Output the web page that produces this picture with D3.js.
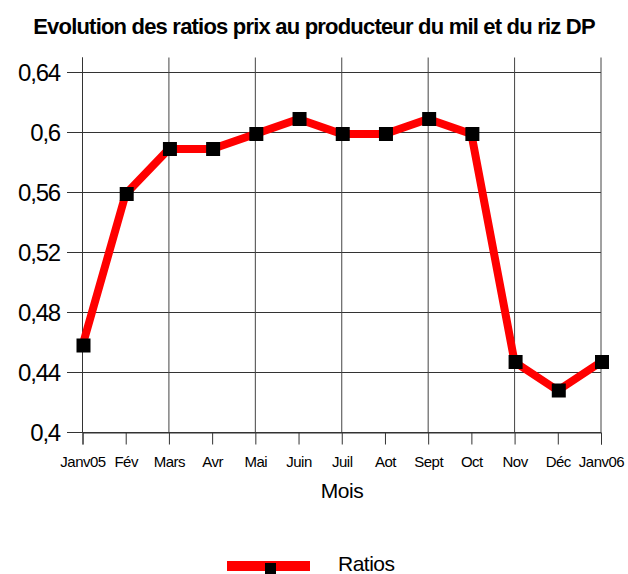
<!DOCTYPE html>
<html>
<head>
<meta charset="utf-8">
<script src="https://cdn.jsdelivr.net/npm/d3@7"></script>
<style>
body { margin: 0; background: #fff; }
text { font-family: "Liberation Sans", Arial, sans-serif; fill: #000; }
</style>
</head>
<body>
<div id="chart"></div>
<script>
var months = ["Janv05", "Fév", "Mars", "Avr", "Mai", "Juin", "Juil", "Aot", "Sept", "Oct", "Nov", "Déc", "Janv06"];
var ratios = [0.458, 0.559, 0.589, 0.589, 0.599, 0.609, 0.599, 0.599, 0.609, 0.599, 0.447, 0.428, 0.447];
var yTicks = [0.4, 0.44, 0.48, 0.52, 0.56, 0.6, 0.64];
var majorMonths = ["Janv05", "Mars", "Mai", "Juil", "Sept", "Nov", "Janv06"];

var svgWidth = 628;
var svgHeight = 574;

var svg = d3.select("#chart")
.append("svg")
.attr("width", svgWidth)
.attr("height", svgHeight);

var xScale = d3.scalePoint()
.domain(months)
.range([82.5, 601]);

var yScale = d3.scaleLinear()
.domain([0.4, 0.65])
.range([432.5, 57.5]);

var fmt = function(d) { return String(+d.toFixed(2)).replace(".", ","); };

// title
svg.append("text")
.attr("x", 314)
.attr("y", 34)
.attr("text-anchor", "middle")
.attr("font-size", "22px")
.attr("font-weight", "bold")
.attr("letter-spacing", "-0.8px")
.text("Evolution des ratios prix au producteur du mil et du riz DP");

// horizontal grid
svg.append("g")
.selectAll("line")
.data(yTicks)
.enter()
.append("line")
.attr("x1", 67)
.attr("x2", 601)
.attr("y1", d => yScale(d))
.attr("y2", d => yScale(d))
.attr("stroke", "#333")
.attr("stroke-width", 1);

// vertical grid on major months
svg.append("g")
.selectAll("line")
.data(majorMonths)
.enter()
.append("line")
.attr("x1", d => xScale(d))
.attr("x2", d => xScale(d))
.attr("y1", yScale(0.65))
.attr("y2", yScale(0.4))
.attr("stroke", "#444")
.attr("stroke-width", 1);

// x axis
var bottomAxis = d3.axisBottom(xScale).tickSize(12).tickFormat("");
var xAxis = svg.append("g")
.attr("transform", `translate(0, ${yScale(0.4)})`)
.call(bottomAxis);
xAxis.select(".domain").attr("stroke", "#333");
xAxis.selectAll(".tick line").attr("stroke", "#333");

xAxis.selectAll(".tick")
.append("text")
.attr("y", 34)
.attr("text-anchor", "middle")
.attr("font-size", "15px")
.attr("letter-spacing", "-0.5px")
.attr("fill", "#000")
.text(d => d);

// y labels
svg.append("g")
.selectAll("text")
.data(yTicks)
.enter()
.append("text")
.attr("x", 60)
.attr("y", d => yScale(d) + 8.5)
.attr("text-anchor", "end")
.attr("font-size", "24px")
.attr("letter-spacing", "-1.2px")
.text(d => fmt(d));

// left axis line
svg.append("line")
.attr("x1", 82.5)
.attr("x2", 82.5)
.attr("y1", yScale(0.65))
.attr("y2", yScale(0.4))
.attr("stroke", "#333");

// axis title
svg.append("text")
.attr("x", 342)
.attr("y", 498)
.attr("text-anchor", "middle")
.attr("font-size", "21px")
.attr("letter-spacing", "-0.5px")
.text("Mois");

// series
var line = d3.line()
.x((d, i) => xScale(months[i]))
.y(d => yScale(d));

svg.append("path")
.datum(ratios)
.attr("d", line)
.attr("fill", "none")
.attr("stroke", "#ff0000")
.attr("stroke-width", 8)
.attr("stroke-linejoin", "round");

svg.append("g")
.selectAll("rect")
.data(ratios)
.enter()
.append("rect")
.attr("x", (d, i) => xScale(months[i]) - 6)
.attr("y", d => yScale(d) - 7)
.attr("width", 14)
.attr("height", 14)
.attr("fill", "#000");

// legend
svg.append("rect")
.attr("x", 227)
.attr("y", 561)
.attr("width", 83)
.attr("height", 10)
.attr("fill", "#ff0000");

svg.append("rect")
.attr("x", 265)
.attr("y", 563)
.attr("width", 11)
.attr("height", 11)
.attr("fill", "#000");

svg.append("text")
.attr("x", 338)
.attr("y", 571)
.attr("font-size", "21px")
.attr("letter-spacing", "-0.5px")
.text("Ratios");
</script>
</body>
</html>
